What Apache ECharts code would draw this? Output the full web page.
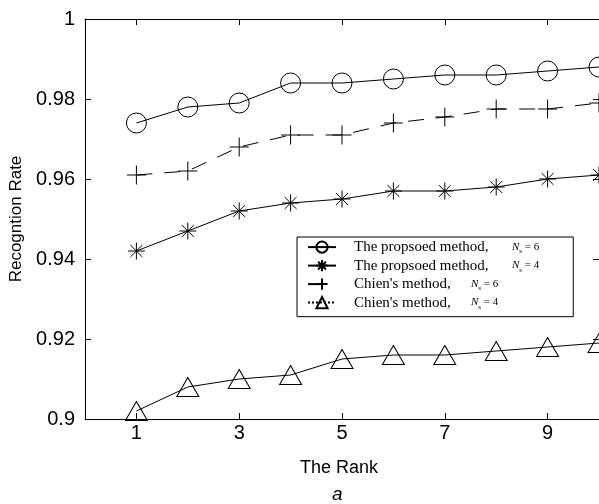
<!DOCTYPE html>
<html>
<head>
<meta charset="utf-8">
<script src="https://cdn.jsdelivr.net/npm/echarts@6/dist/echarts.min.js"></script>
<style>html,body{margin:0;padding:0;background:#fff;}#c{width:599px;height:504px;}</style>
</head>
<body>
<div id="c"></div>
<script>
const ranks = [1, 2, 3, 4, 5, 6, 7, 8, 9, 10];
const proposedN6 = [0.974, 0.978, 0.979, 0.984, 0.984, 0.985, 0.986, 0.986, 0.987, 0.988];
const proposedN4 = [0.942, 0.947, 0.952, 0.954, 0.955, 0.957, 0.957, 0.958, 0.960, 0.961];
const chienN6 = [0.961, 0.962, 0.968, 0.971, 0.971, 0.974, 0.9755, 0.9775, 0.9775, 0.979];
const chienN4 = [0.902, 0.908, 0.910, 0.911, 0.915, 0.916, 0.916, 0.917, 0.918, 0.919];
const xTicks = [1, 3, 5, 7, 9];
const seriesNames = ['The propsoed method, N=6', 'The propsoed method, N=4', "Chien's method, N=6", "Chien's method, N=4"];
const legendLabels = [
  '{t|The propsoed method,}{n|N}{s|s}{e| = 6}',
  '{t|The propsoed method,}{n|N}{s|s}{e| = 4}',
  "{c|Chien's method,}{n|N}{s|s}{e| = 6}",
  "{c|Chien's method,}{n|N}{s|s}{e| = 4}"
];

const pair = (ys) => ranks.map((x, i) => [x, ys[i]]);
const plusPath = 'path://M0,10 L20,10 M10,0 L10,20';
const starPath = 'path://M0,10 L20,10 M10,0 L10,20 M3,3 L17,17 M17,3 L3,17';

const chart = echarts.init(document.getElementById('c'), null, {renderer: 'canvas'});
const black = '#000';
const baseItem = {color: 'none', borderColor: black, borderWidth: 1};

function mkSeries(name, ys, symbol, size, dashed) {
  return {
    name: name, type: 'line', data: pair(ys),
    symbol: symbol, symbolSize: size,
    itemStyle: baseItem,
    lineStyle: {color: black, width: 1, type: dashed ? [16, 12] : 'solid'},
    emphasis: {disabled: true}, animation: false, z: 3
  };
}

const axisCommon = {
  axisLine: {show: true, onZero: false, lineStyle: {color: black, width: 1}},
  splitLine: {show: false}
};
const serif = 'Liberation Serif, Times New Roman, serif';

chart.setOption({
  animation: false,
  backgroundColor: '#fff',
  grid: {left: 84, top: 19, width: 516, height: 400, containLabel: false},
  xAxis: [
    Object.assign({
      type: 'value', min: 0, max: 10, position: 'bottom',
      axisTick: {show: true, inside: true, length: 6, customValues: xTicks, lineStyle: {color: black}},
      axisLabel: {customValues: xTicks, color: black, fontSize: 20, fontFamily: 'Liberation Sans, Arial, sans-serif', margin: 4},
      name: 'The Rank', nameLocation: 'middle', nameGap: 40,
      nameTextStyle: {color: black, fontSize: 18, fontFamily: 'Liberation Sans, Arial, sans-serif', padding: [0, 6, 0, 0]}
    }, axisCommon),
    Object.assign({
      type: 'value', min: 0, max: 10, position: 'top',
      axisTick: {show: true, inside: true, length: 6, customValues: xTicks, lineStyle: {color: black}},
      axisLabel: {show: false}
    }, axisCommon)
  ],
  yAxis: [
    Object.assign({
      type: 'value', min: 0.9, max: 1, interval: 0.02, position: 'left',
      axisTick: {show: true, inside: true, length: 6, lineStyle: {color: black}},
      axisLabel: {color: black, fontSize: 20, fontFamily: 'Liberation Sans, Arial, sans-serif', margin: 10,
        formatter: (v) => String(parseFloat(v.toFixed(2)))},
      name: 'Recogntion Rate', nameLocation: 'middle', nameGap: 60,
      nameTextStyle: {color: black, fontSize: 17, fontFamily: 'Liberation Sans, Arial, sans-serif'}
    }, axisCommon),
    Object.assign({
      type: 'value', min: 0.9, max: 1, interval: 0.02, position: 'right',
      axisTick: {show: true, inside: true, length: 6, lineStyle: {color: black}},
      axisLabel: {show: false}
    }, axisCommon)
  ],
  legend: {
    orient: 'vertical', left: 297, top: 237,
    padding: [2, 34, 6, 10],
    itemWidth: 28, itemHeight: 14, itemGap: 2.3,
    borderColor: black, borderWidth: 1, backgroundColor: '#fff',
    selectedMode: false,
    data: [
      {name: seriesNames[0]},
      {name: seriesNames[1]},
      {name: seriesNames[2]},
      {name: seriesNames[3], lineStyle: {type: 'dotted'}}
    ],
    formatter: (name) => legendLabels[seriesNames.indexOf(name)],
    textStyle: {
      color: black, fontFamily: serif, fontSize: 15, lineHeight: 16,
      rich: {
        t: {fontSize: 15, fontFamily: serif, lineHeight: 16, width: 158, padding: [0, 0, 0, 13]},
        c: {fontSize: 15, fontFamily: serif, lineHeight: 16, width: 117, padding: [0, 0, 0, 13]},
        n: {fontSize: 11, fontStyle: 'italic', fontFamily: serif, lineHeight: 16},
        s: {fontSize: 7, fontFamily: serif, lineHeight: 16, verticalAlign: 'bottom'},
        e: {fontSize: 11, fontFamily: serif, lineHeight: 16}
      }
    }
  },
  graphic: [{
    type: 'text', left: 332, top: 485,
    style: {text: 'a', fill: black, fontSize: 19, fontStyle: 'italic', fontFamily: 'Liberation Sans, Arial, sans-serif'}
  }],
  series: [
    mkSeries(seriesNames[0], proposedN6, 'circle', 20, false),
    mkSeries(seriesNames[1], proposedN4, starPath, 17, false),
    mkSeries(seriesNames[2], chienN6, plusPath, 19, true),
    mkSeries(seriesNames[3], chienN4, 'triangle', [22, 19], false)
  ]
});
</script>
</body>
</html>
